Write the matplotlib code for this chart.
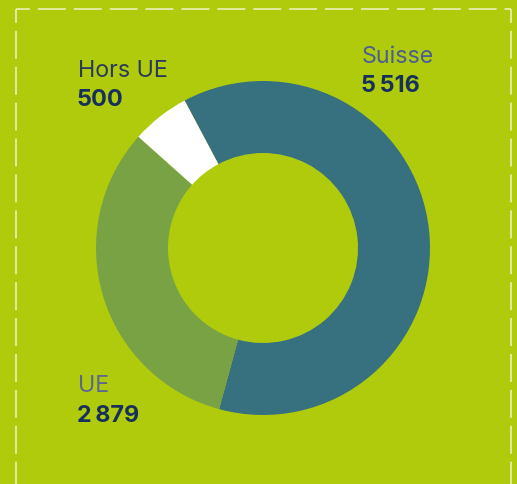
import matplotlib
matplotlib.use("Agg")
import matplotlib.pyplot as plt
from matplotlib.lines import Line2D

# Data
categories = ["Suisse", "UE", "Hors UE"]
values = [5516, 2879, 500]
value_labels = ["5\u2009516", "2\u2009879", "500"]

BG = "#b0cb0c"
colors = ["#37717f", "#79a245", "#ffffff"]
name_colors = ["#4b5e93", "#5d6690", "#2b3a5c"]
num_color = "#172f5c"

W, H = 517, 484
fig = plt.figure(figsize=(W / 100, H / 100), dpi=100, facecolor=BG)
ax = fig.add_axes([0, 0, 1, 1])
ax.set_facecolor(BG)

ax.pie(values, colors=colors, startangle=118, counterclock=False,
       center=(263, H - 248), radius=167, frame=True,
       wedgeprops=dict(width=72, linewidth=0))
ax.set_xlim(0, W)
ax.set_ylim(0, H)
ax.set_aspect("equal")
ax.axis("off")

fam = ["Inter", "DejaVu Sans"]
# label positions (left x, baseline y in pixels from top)
pos = {"Suisse": (362, 63), "UE": (78, 392), "Hors UE": (78, 77)}
for i, cat in enumerate(categories):
    x, yb = pos[cat]
    ax.text(x, H - yb, cat, fontsize=16.8, family=fam, color=name_colors[i],
            ha="left", va="baseline")
    ax.text(x - 1, H - (yb + 29.5), value_labels[i], fontsize=16.8, family=fam,
            fontweight="bold", color=num_color, ha="left", va="baseline")

# dashed border (top, left, right); dash ~28px, gap ~8px, corner half-dash
bc = "#eef4c8"
lw = 1.1
dash = (9.2, (18.3, 5.2))
top = 8.5
left, right = 15.5, 510.5
ax.add_line(Line2D([left, right], [H - top, H - top], color=bc, lw=lw,
                   linestyle=dash))
ax.add_line(Line2D([left, left], [H - top, 0], color=bc, lw=lw,
                   linestyle=dash))
ax.add_line(Line2D([right, right], [H - top, 0], color=bc, lw=lw,
                   linestyle=dash))

fig.savefig("out.png", dpi=100, facecolor=BG)
